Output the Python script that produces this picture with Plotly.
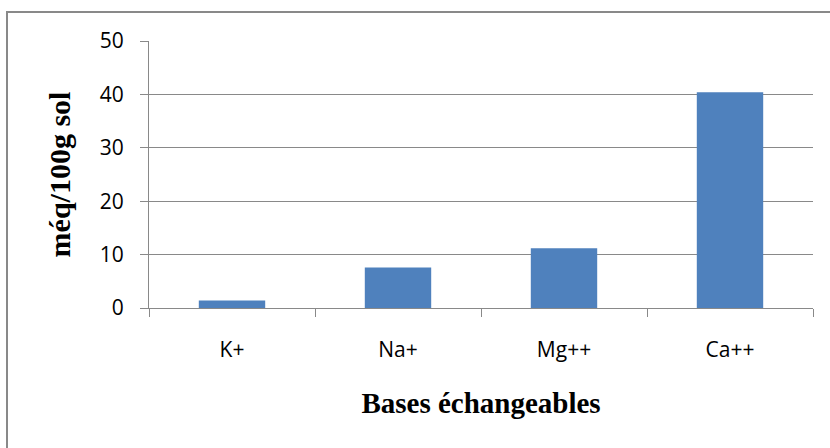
import plotly.graph_objects as go

categories = ["K+", "Na+", "Mg++", "Ca++"]
values = [1.4, 7.6, 11.2, 40.4]
y_ticks = [0, 10, 20, 30, 40, 50]

W, H = 830, 448
L, R, T, B = 149, 17, 41, 140
pw, ph = W - L - R, H - T - B
grey = "#898989"

fig = go.Figure(go.Bar(x=categories, y=values, marker=dict(color="#4F81BD", line=dict(width=0)), width=0.4))

fig.update_layout(
    width=W, height=H, autosize=False,
    margin=dict(l=L, r=R, t=T, b=B, pad=0),
    paper_bgcolor="white", plot_bgcolor="white",
    showlegend=False,
    xaxis=dict(
        type="category", range=[-0.5, 3.5], tickson="boundaries",
        ticks="outside", ticklen=8, tickcolor=grey, tickwidth=1,
        showline=True, linecolor=grey, linewidth=1, showgrid=False,
        tickfont=dict(family="Open Sans", size=21, color="black"),
        ticklabelstandoff=23,
        title=dict(text="Bases échangeables", standoff=30,
                   font=dict(family="Liberation Serif", size=29, color="black", weight="bold")),
    ),
    yaxis=dict(
        range=[0, 50], tickvals=y_ticks, ticks="outside", ticklen=8, tickcolor=grey, tickwidth=1,
        showline=True, linecolor=grey, linewidth=1,
        showgrid=True, gridcolor=grey, gridwidth=1, zeroline=False,
        tickfont=dict(family="Open Sans", size=21, color="black"),
        ticklabelstandoff=12,
        title=dict(text="méq/100g sol", standoff=20,
                   font=dict(family="Liberation Serif", size=30, color="black", weight="bold")),
    ),
    shapes=[dict(type="rect", xref="paper", yref="paper",
                 x0=(7 - L) / pw, x1=1.5, y0=-1.5, y1=(H - B - 12) / ph,
                 line=dict(color=grey, width=2), fillcolor="rgba(0,0,0,0)", layer="below")],
)

fig.write_html("out.html", config={"displayModeBar": False},
               post_script="document.body.style.margin='0';document.body.style.overflow='hidden';")
